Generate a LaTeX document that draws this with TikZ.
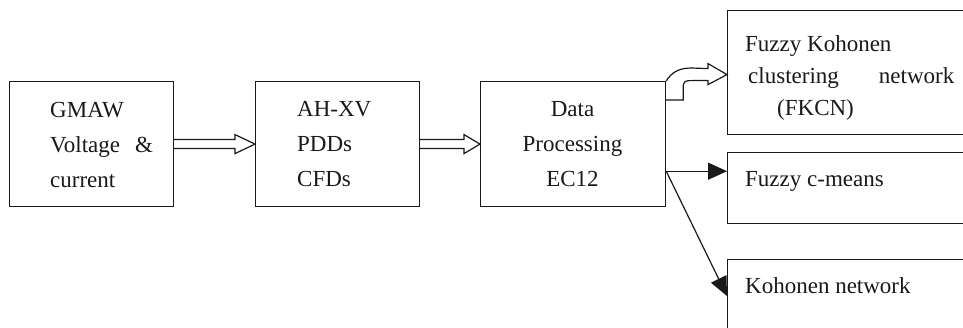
\documentclass[tikz,border=0pt]{standalone}
\usepackage{fontspec}
\setmainfont{Liberation Serif}
\usetikzlibrary{arrows.meta,calc}
\begin{document}
\begin{tikzpicture}[x=1pt,y=-1pt,
  box/.style={draw=black!90, line width=1.2pt, rectangle, inner sep=0pt, anchor=north west},
  lbl/.style={inner sep=0pt, text=black!90, font=\fontsize{23}{35}\selectfont},
  hollow/.style={draw=black!90, line width=1.2pt, line join=miter},
  solidarrow/.style={draw=black!90, line width=1.2pt, -{Triangle[length=19pt,width=17pt]}}
]
\clip (0,0) rectangle (963,328);

% processing chain
\node[box, minimum width=164pt, minimum height=125pt] (gmaw) at (9,81) {};
\node[box, minimum width=164pt, minimum height=125pt] (ahxv) at (255,81) {};
\node[box, minimum width=185pt, minimum height=125pt] (dp)   at (480,81) {};

% classifiers (open to the right)
\node[box, minimum width=260pt, minimum height=124pt] (fk) at (727,10) {};
\node[box, minimum width=260pt, minimum height=71pt]  (cm) at (727,152) {};
\node[box, minimum width=260pt, minimum height=90pt]  (kn) at (727,259) {};

% texts
\node[lbl, anchor=west, align=left] (t1) at (50,144.5) {GMAW\\Voltage\hspace{15pt}\&\\current};
\node[lbl, anchor=west, align=left] (t2) at (297,144.5) {AH-XV\\PDDs\\CFDs};
\node[lbl, align=center] (t3) at (572.5,144.5) {Data\\Processing\\EC12};
\node[lbl, anchor=west, align=left, font=\fontsize{23}{32}\selectfont] (t4) at (745,78)
  {Fuzzy Kohonen\\\hspace*{3pt}clustering\hspace{40pt}network\\\hspace*{32pt}(FKCN)};
\node[lbl, anchor=base west] (t5) at (745,187) {Fuzzy c-means};
\node[lbl, anchor=base west] (t6) at (745,294) {Kohonen network};

% hollow block arrows
\draw[hollow] ($(gmaw.east)+(0,-4.5)$) -- ($(ahxv.west)+(-20,-4.5)$) -- ($(ahxv.west)+(-20,-9.5)$)
  -- (ahxv.west) -- ($(ahxv.west)+(-20,9.5)$) -- ($(ahxv.west)+(-20,4.5)$) -- ($(gmaw.east)+(0,4.5)$);
\draw[hollow] ($(ahxv.east)+(0,-4.5)$) -- ($(dp.west)+(-16,-4.5)$) -- ($(dp.west)+(-16,-9.5)$)
  -- (dp.west) -- ($(dp.west)+(-16,9.5)$) -- ($(dp.west)+(-16,4.5)$) -- ($(ahxv.east)+(0,4.5)$);

% bent hollow arrow to FKCN
\draw[hollow] (dp.north east)
  .. controls ($(dp.north east)+(5,-8)$) and ($(dp.north east)+(12,-13)$) .. ($(dp.north east)+(25,-13)$)
  -- ($(fk.west)+(-19,-4)$) -- ($(fk.west)+(-19,-9)$) -- ($(fk.west)+(0,2)$)
  -- ($(fk.west)+(-19,12)$) -- ($(fk.west)+(-19,8)$) -- ($(fk.west)+(-35,8)$)
  .. controls ($(fk.west)+(-42,8)$) and ($(dp.north east)+(17,0)$) .. ($(dp.north east)+(17,7)$)
  -- ($(dp.north east)+(17,19)$) -- ($(dp.north east)+(0,19)$);

% solid arrows
\coordinate (split) at ($(dp.south east)+(0,-36)$);
\draw[solidarrow] (split) -- (split -| cm.west);
\draw[solidarrow] (split) -- ($(kn.north west)+(0,37)$);
\end{tikzpicture}
\end{document}
